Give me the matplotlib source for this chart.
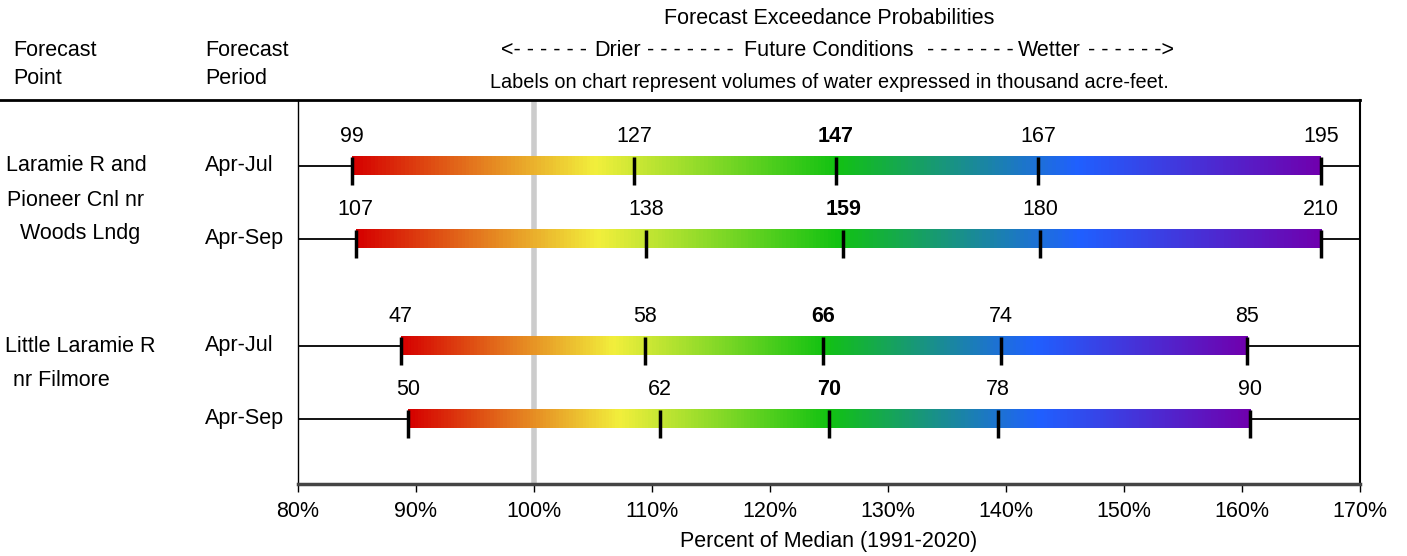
import matplotlib

matplotlib.use("Agg")
import matplotlib.pyplot as plt
import numpy as np
from matplotlib.colors import LinearSegmentedColormap
from matplotlib.lines import Line2D

plt.rcParams["font.family"] = ["Liberation Sans", "DejaVu Sans"]
FS = 15.5

# forecast rows, top to bottom
periods = ["Apr-Jul", "Apr-Sep", "Apr-Jul", "Apr-Sep"]
row_y = [0.0, 1.0, 2.466, 3.466]
# percent of median at 90/70/50/30/10 % exceedance
pct = [
    [84.6, 108.5, 125.6, 142.7, 166.7],
    [84.9, 109.5, 126.2, 142.9, 166.7],
    [88.7, 109.4, 124.5, 139.6, 160.4],
    [89.3, 110.7, 125.0, 139.3, 160.7],
]
# volumes, thousand acre-feet
volumes = [
    [99, 127, 147, 167, 195],
    [107, 138, 159, 180, 210],
    [47, 58, 66, 74, 85],
    [50, 62, 70, 78, 90],
]
xticks = [80, 90, 100, 110, 120, 130, 140, 150, 160, 170]

cmap = LinearSegmentedColormap.from_list(
    "wet", ["#d60000", "#f2ef3c", "#12c212", "#2060ff", "#7000ae"])
grad = np.linspace(0, 1, 256).reshape(1, -1)

fig = plt.figure(figsize=(14.07, 5.56), dpi=100)
ax = fig.add_axes([298 / 1407, 1 - 484 / 556, (1360 - 298) / 1407, 384 / 556])
ax.set_xlim(80, 170)
ax.set_ylim(4.36, -0.904)

ax.axvline(100, color="#cccccc", lw=4, zorder=1)

bh = 0.25
for y, p, v in zip(row_y, pct, volumes):
    ax.plot([80, p[0]], [y, y], color="black", lw=1.3, zorder=2)
    ax.plot([p[-1], 170], [y, y], color="black", lw=1.3, zorder=2)
    ax.imshow(grad, cmap=cmap, aspect="auto", zorder=3,
              extent=[p[0], p[-1], y + bh / 2, y - bh / 2])
    for i, (xv, val) in enumerate(zip(p, v)):
        ax.plot([xv, xv], [y - bh / 2, y + 0.26], color="black", lw=2.5,
                solid_capstyle="butt", zorder=4)
        ax.text(xv, y - 0.4, str(val), ha="center", va="center", fontsize=FS,
                fontweight="bold" if i == 2 else "normal")

ax.set_xticks(xticks)
ax.set_xticklabels([f"{t}%" for t in xticks], fontsize=FS)
ax.set_yticks([])
ax.tick_params(axis="x", length=6, width=1, pad=6)
ax.spines["top"].set_visible(False)
ax.spines["left"].set_linewidth(1)
ax.spines["right"].set_linewidth(1.5)
ax.spines["bottom"].set_linewidth(2.5)
ax.spines["bottom"].set_color("#444444")
ax.set_xlabel("Percent of Median (1991-2020)", fontsize=FS, labelpad=7)

# header rule across the full width
fig.add_artist(Line2D([0, 1360 / 1407], [1 - 100 / 556] * 2,
                      color="black", lw=2, transform=fig.transFigure))

def fy(py):
    return 1 - py / 556

def fx(px):
    return px / 1407

fig.text(fx(829), fy(18), "Forecast Exceedance Probabilities",
         ha="center", va="center", fontsize=FS)
arrow_parts = [("<- - - - - -", 544), ("Drier", 618), ("- - - - - - -", 690),
               ("Future Conditions", 829), ("- - - - - - -", 970),
               ("Wetter", 1049), ("- - - - - ->", 1131)]
for s, px in arrow_parts:
    fig.text(fx(px), fy(50), s, ha="center", va="center", fontsize=FS)
fig.text(fx(829), fy(82),
         "Labels on chart represent volumes of water expressed in thousand acre-feet.",
         ha="center", va="center", fontsize=14.3)
fig.text(fx(13), fy(50), "Forecast", ha="left", va="center", fontsize=FS)
fig.text(fx(13), fy(78), "Point", ha="left", va="center", fontsize=FS)
fig.text(fx(205), fy(50), "Forecast", ha="left", va="center", fontsize=FS)
fig.text(fx(205), fy(78), "Period", ha="left", va="center", fontsize=FS)

# forecast point names
fig.text(fx(76), fy(166), "Laramie R and", ha="center", va="center", fontsize=FS)
fig.text(fx(76), fy(200), "Pioneer Cnl nr", ha="center", va="center", fontsize=FS)
fig.text(fx(80), fy(233), "Woods Lndg", ha="center", va="center", fontsize=FS)
fig.text(fx(5), fy(346), "Little Laramie R", ha="left", va="center", fontsize=FS)
fig.text(fx(13), fy(380), "nr Filmore", ha="left", va="center", fontsize=FS)

for y, per in zip(row_y, periods):
    fig.text(fx(205), ax.transData.transform((0, y))[1] / fig.bbox.height,
             per, ha="left", va="center", fontsize=FS)

fig.savefig("out.png", dpi=100)
